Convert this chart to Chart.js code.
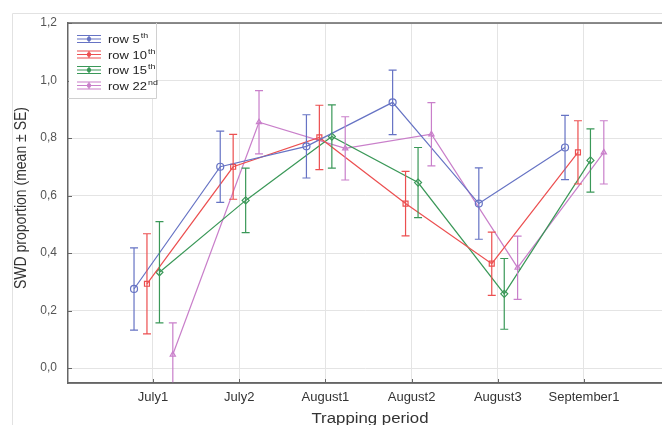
<!DOCTYPE html>
<html lang="en">
<head>
    <meta charset="UTF-8">
    <title>SWD proportion</title>
    <style>
        body { margin: 0; background: #fff; }
        #wrap { width: 662px; height: 425px; }
    </style>
</head>
<body>
    <div id="wrap"><canvas id="swdChart" width="662" height="425"></canvas></div>
<script src="https://cdn.jsdelivr.net/npm/chart.js"></script>
<script>
    // data
    const periods = ["July1", "July2", "August1", "August2", "August3", "September1"];
    const yTicks = [0, 0.2, 0.4, 0.6, 0.8, 1.0, 1.2];

    const row5 = [0.275, 0.70, 0.771, 0.924, 0.572, 0.767];
    const row5se = [0.143, 0.124, 0.11, 0.112, 0.124, 0.112];
    const row10 = [0.293, 0.70, 0.802, 0.572, 0.363, 0.75];
    const row10se = [0.174, 0.113, 0.112, 0.112, 0.11, 0.11];
    const row15 = [0.333, 0.583, 0.805, 0.645, 0.258, 0.722];
    const row15se = [0.176, 0.112, 0.11, 0.122, 0.123, 0.11];
    const row22 = [0.047, 0.855, 0.764, 0.813, 0.349, 0.75];
    const row22se = [0.11, 0.11, 0.11, 0.11, 0.11, 0.11];

    const series = [
        { name: "row 5", sup: "th", mean: row5, se: row5se, color: "#6673c4", point: "circle" },
        { name: "row 10", sup: "th", mean: row10, se: row10se, color: "#ec4f50", point: "rect" },
        { name: "row 15", sup: "th", mean: row15, se: row15se, color: "#3a9858", point: "rectRot" },
        { name: "row 22", sup: "nd", mean: row22, se: row22se, color: "#c97fca", point: "triangle" }
    ];
    // horizontal dodge of each series around the category tick
    const dodge = [-0.22, -0.07, 0.075, 0.23];

    const datasets = series.map((s, k) => ({
        label: s.name,
        data: s.mean.map((v, i) => ({ x: i + 1 + dodge[k], y: v, se: s.se[i] })),
        borderColor: s.color,
        backgroundColor: "rgba(255,255,255,0)",
        borderWidth: 1.2,
        pointStyle: s.point,
        pointRadius: s.point === "triangle" ? 3 : 3.5,
        pointBorderWidth: 1.2,
        pointBorderColor: s.color,
        pointBackgroundColor: "rgba(255,255,255,0)",
        tension: 0,
        fill: false
    }));

    const FONT = "'Liberation Sans', Arial, sans-serif";

    // let the plot run to the right edge of the canvas, like the figure
    const stretchRight = {
        id: "stretchRight",
        afterLayout(chart) {
            const xs = chart.scales.x;
            const d = chart.width - chart.chartArea.right;
            if (d > 0) {
                chart.chartArea.right += d;
                chart.chartArea.width += d;
                xs.right += d;
                xs.width += d;
                xs.configure();
            }
        }
    };

    const errorBars = {
        id: "errorBars",
        afterDatasetsDraw(chart) {
            const ctx = chart.ctx, a = chart.chartArea;
            const xs = chart.scales.x, ys = chart.scales.y;
            ctx.save();
            ctx.beginPath();
            ctx.rect(a.left, a.top, a.right - a.left, a.bottom - a.top);
            ctx.clip();
            chart.data.datasets.forEach((ds) => {
                ctx.strokeStyle = ds.borderColor;
                ctx.lineWidth = 1.2;
                ds.data.forEach((p) => {
                    const px = xs.getPixelForValue(p.x);
                    const top = ys.getPixelForValue(p.y + p.se);
                    const bot = ys.getPixelForValue(p.y - p.se);
                    ctx.beginPath();
                    ctx.moveTo(px, top); ctx.lineTo(px, bot);
                    ctx.moveTo(px - 4, top); ctx.lineTo(px + 4, top);
                    ctx.moveTo(px - 4, bot); ctx.lineTo(px + 4, bot);
                    ctx.stroke();
                });
            });
            ctx.restore();
        }
    };

    // text in the source figure is stretched a little horizontally
    function wideText(ctx, txt, x, y, sx) {
        ctx.save();
        ctx.translate(x, y);
        ctx.scale(sx, 1);
        ctx.fillText(txt, 0, 0);
        ctx.restore();
    }

    const decor = {
        id: "decor",
        beforeDraw(chart) {
            const ctx = chart.ctx;
            ctx.save();
            ctx.fillStyle = "#fff";
            ctx.fillRect(0, 0, chart.width, chart.height);
            ctx.strokeStyle = "#e2e2e2";
            ctx.lineWidth = 1;
            ctx.beginPath();
            ctx.moveTo(12.5, 425); ctx.lineTo(12.5, 13.5); ctx.lineTo(662, 13.5);
            ctx.stroke();
            ctx.restore();
        },
        afterDraw(chart) {
            const ctx = chart.ctx, a = chart.chartArea;
            const xs = chart.scales.x, ys = chart.scales.y;
            ctx.save();
            // top frame and small inner ticks
            ctx.strokeStyle = "#666";
            ctx.lineWidth = 1.5;
            ctx.beginPath();
            ctx.moveTo(a.left, a.top); ctx.lineTo(chart.width, a.top);
            ctx.moveTo(a.left, a.bottom); ctx.lineTo(chart.width, a.bottom);
            ctx.stroke();
            ctx.lineWidth = 1;
            ctx.beginPath();
            xs.ticks.forEach((t) => {
                const px = Math.round(xs.getPixelForValue(t.value)) + 0.5;
                ctx.moveTo(px, a.bottom); ctx.lineTo(px, a.bottom - 4);
            });
            ys.ticks.forEach((t) => {
                const py = Math.round(ys.getPixelForValue(t.value)) + 0.5;
                ctx.moveTo(a.left, py); ctx.lineTo(a.left + 4, py);
            });
            ctx.stroke();

            // axis titles
            ctx.fillStyle = "#333";
            ctx.textAlign = "center";
            ctx.textBaseline = "middle";
            ctx.font = "14px " + FONT;
            ctx.save();
            ctx.translate(22, 198);
            ctx.rotate(-Math.PI / 2);
            ctx.scale(1, 1.15);
            ctx.fillText("SWD proportion (mean \u00b1 SE)", 0, 0);
            ctx.restore();
            wideText(ctx, "Trapping period", (a.left + a.right) / 2 + 5, 419, 1.2);

            // legend
            const lx = a.left, ly = a.top;
            ctx.fillStyle = "#fff";
            ctx.fillRect(lx + 1, ly + 1, 87, 74);
            ctx.strokeStyle = "#d0d0d0";
            ctx.lineWidth = 1;
            ctx.beginPath();
            ctx.moveTo(lx + 88.5, ly); ctx.lineTo(lx + 88.5, ly + 75.5); ctx.lineTo(lx, ly + 75.5);
            ctx.stroke();
            series.forEach((s, k) => {
                const y = ly + 16 + k * 15.5;
                const x0 = lx + 9, x1 = lx + 33, xm = (x0 + x1) / 2;
                ctx.strokeStyle = s.color;
                ctx.lineWidth = 1.2;
                ctx.beginPath();
                ctx.moveTo(x0, y); ctx.lineTo(x1, y);
                ctx.moveTo(x0, y - 3.5); ctx.lineTo(x1, y - 3.5);
                ctx.moveTo(x0, y + 3.5); ctx.lineTo(x1, y + 3.5);
                ctx.moveTo(xm, y - 3.5); ctx.lineTo(xm, y + 3.5);
                ctx.stroke();
                ctx.fillStyle = s.color;
                ctx.beginPath();
                ctx.arc(xm, y, 2.2, 0, Math.PI * 2);
                ctx.fill();
                ctx.fillStyle = "#222";
                ctx.textAlign = "left";
                ctx.font = "11px " + FONT;
                wideText(ctx, s.name, x1 + 7, y + 1, 1.18);
                const w = ctx.measureText(s.name).width * 1.18;
                ctx.font = "7.5px " + FONT;
                wideText(ctx, s.sup, x1 + 7 + w + 1, y - 3, 1.18);
            });
            ctx.restore();
        }
    };

    new Chart(document.getElementById("swdChart"), {
        type: "line",
        data: { datasets: datasets },
        options: {
            responsive: false,
            animation: false,
            layout: { padding: { top: 23, right: 0, left: 0, bottom: 0 } },
            plugins: { legend: { display: false }, tooltip: { enabled: false } },
            scales: {
                x: {
                    type: "linear",
                    min: 0.014,
                    max: 6.905,
                    afterFit(scale) { scale.height = 42; },
                    afterBuildTicks(scale) { scale.ticks = periods.map((p, i) => ({ value: i + 1 })); },
                    ticks: {
                        callback: (v) => periods[v - 1],
                        color: "#333",
                        font: { family: FONT, size: 13 },
                        padding: 7,
                        maxRotation: 0,
                        autoSkip: false
                    },
                    grid: { color: "#e4e4e4", drawTicks: false },
                    border: { color: "#666", width: 1.5 }
                },
                y: {
                    min: -0.052,
                    max: 1.2,
                    afterFit(scale) { scale.width = 68; },
                    afterBuildTicks(scale) { scale.ticks = yTicks.map((v) => ({ value: v })); },
                    ticks: {
                        callback: (v) => v.toFixed(1).replace(".", ","),
                        color: "#555",
                        font: { family: FONT, size: 12 },
                        padding: 11
                    },
                    grid: { color: "#e4e4e4", drawTicks: false },
                    border: { color: "#666", width: 1.5 }
                }
            }
        },
        plugins: [stretchRight, decor, errorBars]
    });
</script>
</body>
</html>
